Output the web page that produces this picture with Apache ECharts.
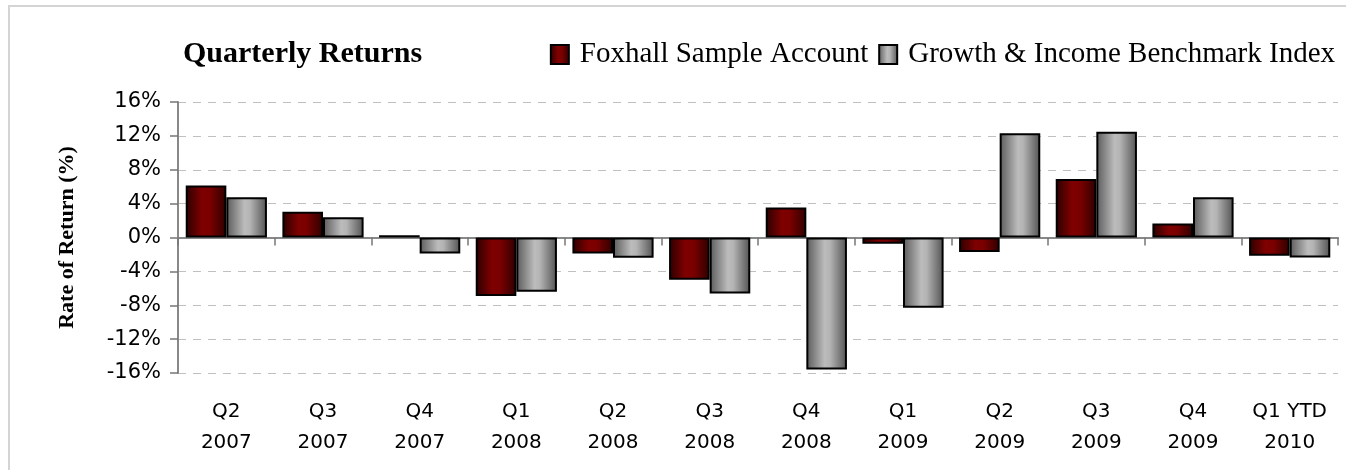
<!DOCTYPE html>
<html>
<head>
<meta charset="utf-8">
<script src="https://cdn.jsdelivr.net/npm/echarts@6/dist/echarts.min.js"></script>
<style>
html,body{margin:0;padding:0;background:#fff;}
#chart{width:1346px;height:470px;}
</style>
</head>
<body>
<div id="chart"></div>
<script>
const categories = ['Q2\n2007','Q3\n2007','Q4\n2007','Q1\n2008','Q2\n2008','Q3\n2008','Q4\n2008','Q1\n2009','Q2\n2009','Q3\n2009','Q4\n2009','Q1 YTD\n2010'];
const foxhall = [6.15, 3.05, 0.27, -6.9, -1.9, -5.0, 3.55, -0.75, -1.7, 6.9, 1.65, -2.15];
const benchmark = [4.75, 2.4, -1.9, -6.4, -2.4, -6.6, -15.6, -8.3, 12.3, 12.5, 4.75, -2.35];
const seriesNames = ['Foxhall Sample Account', 'Growth & Income Benchmark Index'];
const yTicks = {min: -16, max: 16, interval: 4};

const redGrad = new echarts.graphic.LinearGradient(0,0,1,0,[
  {offset:0,color:'#2a0000'},{offset:0.4,color:'#7f0000'},{offset:0.6,color:'#7a0000'},{offset:1,color:'#2e0000'}]);
const grayGrad = new echarts.graphic.LinearGradient(0,0,1,0,[
  {offset:0,color:'#5a5a5a'},{offset:0.45,color:'#bcbcbc'},{offset:0.58,color:'#b4b4b4'},{offset:1,color:'#525252'}]);

const chart = echarts.init(document.getElementById('chart'), null, {renderer:'canvas'});
chart.setOption({
  animation:false,
  backgroundColor:'#fff',
  graphic:[{type:'rect',shape:{x:9,y:6,width:1350,height:480},style:{fill:'none',stroke:'#d4d4d4',lineWidth:2},silent:true}],
  title:{text:'Quarterly Returns',left:178,top:34,textStyle:{fontFamily:'Liberation Serif',fontWeight:'bold',fontSize:30,color:'#000'}},
  legend:{right:6,top:35,itemWidth:18,itemHeight:19,itemGap:10,icon:'rect',
    textStyle:{fontFamily:'Liberation Serif',fontSize:29,color:'#000',padding:[0,0,0,6]},
    data:seriesNames},
  grid:{left:178,right:8,top:102,bottom:97},
  xAxis:[{type:'category',data:categories,position:'bottom',
      axisLine:{onZero:true,lineStyle:{color:'#888',width:2}},
      axisTick:{show:true,length:8,lineStyle:{color:'#777',width:1.5}},
      axisLabel:{show:false},splitLine:{show:false}},
    {type:'category',data:categories,position:'bottom',
      axisLine:{show:false,onZero:false},axisTick:{show:false},
      axisLabel:{show:true,interval:0,margin:23,fontFamily:'DejaVu Sans',fontSize:20,color:'#000',lineHeight:31}}],
  yAxis:{type:'value',min:yTicks.min,max:yTicks.max,interval:yTicks.interval,
    name:'Rate of Return (%)',nameLocation:'middle',nameGap:100,
    nameTextStyle:{fontFamily:'Liberation Serif',fontWeight:'bold',fontSize:22,color:'#000'},
    axisLine:{show:true,lineStyle:{color:'#888',width:2}},
    axisTick:{show:true,length:8,lineStyle:{color:'#777',width:1.5}},
    axisLabel:{formatter:'{value}%',fontFamily:'DejaVu Sans',fontSize:21,color:'#000',margin:17},
    splitLine:{show:true,lineStyle:{color:'#c0c0c0',width:1.2,type:[8,7]}}},
  series:[
    {name:seriesNames[0],type:'bar',xAxisIndex:0,data:foxhall,barGap:'0%',barCategoryGap:'16%',
      itemStyle:{color:redGrad,borderColor:'#000',borderWidth:2}},
    {name:seriesNames[1],type:'bar',xAxisIndex:0,data:benchmark,barGap:'0%',barCategoryGap:'16%',
      itemStyle:{color:grayGrad,borderColor:'#000',borderWidth:2}}
  ]
});
</script>
</body>
</html>
